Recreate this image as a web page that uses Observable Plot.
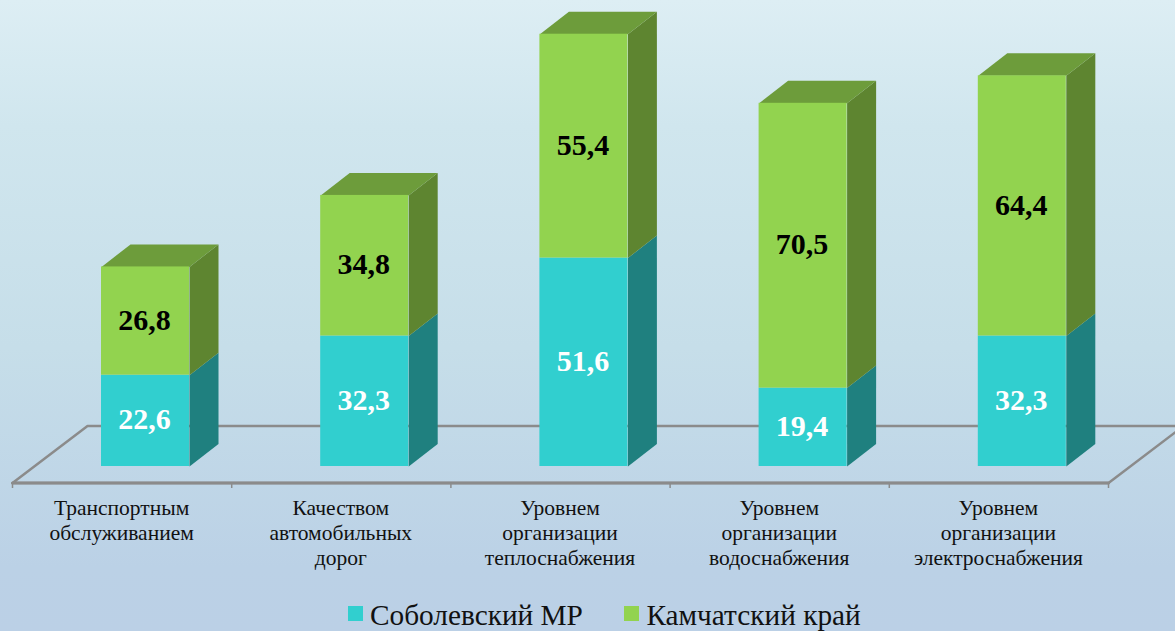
<!DOCTYPE html>
<html lang="ru">
<head>
<meta charset="utf-8">
<script src="https://cdn.jsdelivr.net/npm/d3@7"></script>
<script src="https://cdn.jsdelivr.net/npm/@observablehq/plot@0.6"></script>
<style>
html,body{margin:0;padding:0;width:1175px;height:631px;overflow:hidden}
#page{width:1175px;height:631px;position:relative;overflow:hidden;
background:linear-gradient(180deg,#ddeef4 0%,#d0e6ee 20%,#c6dee9 55%,#bbd1e6 90%,#bbd0e6 100%);
font-family:"Liberation Serif","Times New Roman",serif}
#chart svg{display:block;background:transparent}
#legend{display:flex;align-items:center;height:36px;padding-left:348px;font-size:29.3px;color:#111;line-height:36px}
.sw{width:15px;height:15px;display:inline-block;margin-right:7px}
.lab{margin-right:41.5px;position:relative;top:1.5px}
</style>
</head>
<body>
<div id="page">
<div id="chart"></div>
<div id="legend"></div>
</div>
<script>
const categories = [
  "Транспортным\nобслуживанием",
  "Качеством\nавтомобильных\nдорог",
  "Уровнем\nорганизации\nтеплоснабжения",
  "Уровнем\nорганизации\nводоснабжения",
  "Уровнем\nорганизации\nэлектроснабжения"
];
const sobolevsky = [22.6, 32.3, 51.6, 19.4, 32.3];
const kamchatka = [26.8, 34.8, 55.4, 70.5, 64.4];
const seriesNames = ["Соболевский МР", "Камчатский край"];
const seriesColors = ["#31cfcf", "#92d34f"];
const sideColors = ["#1f807f", "#5e8530"];
const topColor = "#6d9c3b";
const floorColor = "#8b8b8b";

const H = 595, W = 1175;
const pxPerUnit = 4.04, baseY = 466, axisY = 482.5;
const xLeft = 12, xRight = 1108, pxPerCat = (xRight - xLeft) / categories.length;
const frontStart = 89 / pxPerCat, frontEnd = 177 / pxPerCat;
const depthX = 29 / pxPerCat, depthY = 22.5 / pxPerUnit;
const floorFront = -(axisY - baseY) / pxPerUnit;
const floorBack = (baseY - 425.5) / pxPerUnit;
const floorDepthX = 75 / pxPerCat;

const idx = d3.range(categories.length);
const segments = idx.flatMap(i => [
  {i, s: 0, y1: 0, y2: sobolevsky[i], v: sobolevsky[i]},
  {i, s: 1, y1: sobolevsky[i], y2: sobolevsky[i] + kamchatka[i], v: kamchatka[i]}
]);
const sidePts = s => segments.filter(d => d.s === s).flatMap(d => {
  const a = d.i + frontEnd, b = a + depthX;
  return [[a, d.y1], [b, d.y1 + depthY], [b, d.y2 + depthY], [a, d.y2]].map(([x, y]) => ({x, y, z: d.i}));
});
const topPts = idx.flatMap(i => {
  const t = sobolevsky[i] + kamchatka[i];
  const l = i + frontStart, r = i + frontEnd;
  return [[l, t], [r, t], [r + depthX, t + depthY], [l + depthX, t + depthY]].map(([x, y]) => ({x, y, z: i}));
});
const n = categories.length;
const floorPts = [
  [0, floorFront], [floorDepthX, floorBack], [n + floorDepthX, floorBack], [n, floorFront]
].map(([x, y]) => ({x, y}));
const frontLine = [{x: 0, y: floorFront}, {x: n, y: floorFront}];
const edges = d3.range(n + 1);
const centers = idx.map(i => i + 0.5);

const fontFamily = '"Liberation Serif","Times New Roman",serif';
const plot = Plot.plot({
  width: W, height: H,
  marginTop: 0, marginLeft: xLeft, marginRight: W - xRight, marginBottom: H - axisY,
  style: {background: "transparent", fontFamily},
  x: {type: "linear", domain: [0, n], label: null},
  y: {domain: [floorFront, baseY / pxPerUnit], axis: null},
  marks: [
    Plot.line(floorPts, {x: "x", y: "y", stroke: floorColor, strokeWidth: 2.5, curve: "linear-closed"}),
    Plot.line(frontLine, {x: "x", y: "y", stroke: floorColor, strokeWidth: 3}),
    Plot.ruleX(edges, {x: d => d, y1: floorFront, y2: floorFront - 5.5 / pxPerUnit, stroke: floorColor, strokeWidth: 1.5}),
    Plot.axisX({ticks: centers, tickFormat: d => categories[d - 0.5], tickSize: 0, tickPadding: 14.5,
      lineHeight: 1.15, fontSize: 21.5, fill: "#111", fontFamily, anchor: "bottom", dx: -0.5}),
    Plot.line(sidePts(0), {x: "x", y: "y", z: "z", fill: sideColors[0], stroke: "none", curve: "linear-closed"}),
    Plot.line(sidePts(1), {x: "x", y: "y", z: "z", fill: sideColors[1], stroke: "none", curve: "linear-closed"}),
    Plot.line(topPts, {x: "x", y: "y", z: "z", fill: topColor, stroke: "none", curve: "linear-closed"}),
    Plot.rect(segments.filter(d => d.s === 0), {x1: d => d.i + frontStart, x2: d => d.i + frontEnd, y1: "y1", y2: "y2", fill: seriesColors[0]}),
    Plot.rect(segments.filter(d => d.s === 1), {x1: d => d.i + frontStart, x2: d => d.i + frontEnd, y1: "y1", y2: "y2", fill: seriesColors[1]}),
    Plot.text(segments.filter(d => d.s === 0), {x: d => d.i + (frontStart + frontEnd) / 2, y: d => (d.y1 + d.y2) / 2, dx: -1, dy: -1,
      text: d => String(d.v).replace(".", ","), fill: "#fff", fontSize: 30, fontWeight: "bold", fontFamily}),
    Plot.text(segments.filter(d => d.s === 1), {x: d => d.i + (frontStart + frontEnd) / 2, y: d => (d.y1 + d.y2) / 2, dx: -1, dy: -1,
      text: d => String(d.v).replace(".", ","), fill: "#000", fontSize: 30, fontWeight: "bold", fontFamily})
  ]
});
document.getElementById("chart").append(plot);
const legend = d3.select("#legend");
seriesNames.forEach((name, i) => {
  legend.append("span").attr("class", "sw").style("background", seriesColors[i]);
  legend.append("span").attr("class", "lab").text(name);
});
</script>
</body>
</html>
